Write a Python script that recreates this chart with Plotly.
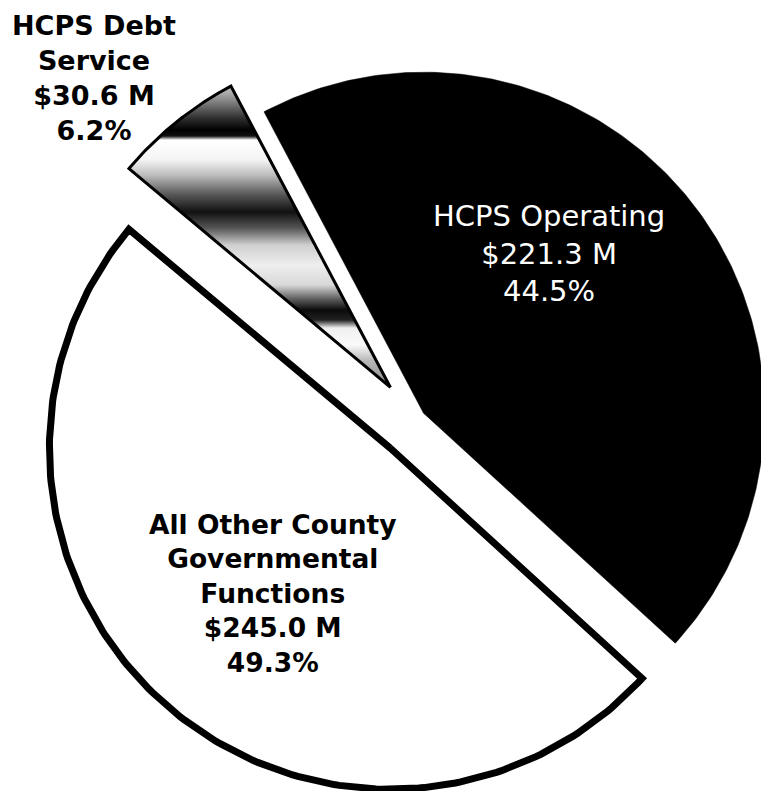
import numpy as np
import plotly.graph_objects as go

# ---------------- data ----------------
categories = ["HCPS Operating", "All Other County Governmental Functions", "HCPS Debt Service"]
values_musd = [221.3, 245.0, 30.6]
label_names = ["HCPS Operating", "All Other County<br>Governmental<br>Functions", "HCPS Debt<br>Service"]

# ---------------- style / geometry constants ----------------
W, H = 761, 791
R_PX = 341.0            # pie radius in pixels
CX_PX, CY_PX = 416.0, 419.0   # pie centre in pixels
START_DEG = -27.9       # first slice starts here, clockwise from 12 o'clock
pulls = [0.028, 0.114, 0.119]
fill_colors = ["#000000", "#ffffff", None]
line_widths = [0, 7, 3]

label_pos_px = [(549, 254), (273, 593), (94, 78)]
label_colors = ["#ffffff", "#000000", "#000000"]
label_sizes = [29, 26.5, 27]
label_weights = ["normal", "bold", "bold"]


def y_unit(py):
    return (CY_PX - py) / R_PX


# gradient for the debt-service slice (pixel rows -> grey level), top to bottom
grad_rows_px = [86, 100, 118, 130, 136, 140, 160, 175, 195, 212, 228, 245, 265, 285, 298, 310, 320, 328, 345, 360, 386]
grad_cols = ["#c8c8c8", "#8a8a8a", "#303030", "#000000", "#101010", "#ffffff", "#f4f4f4", "#bdbdbd",
             "#555555", "#111111", "#555555", "#cfcfcf", "#eeeeee", "#d8d8d8", "#666666", "#0a0a0a",
             "#222222", "#f0f0f0", "#fafafa", "#bbbbbb", "#888888"]
g_top, g_bot = grad_rows_px[0], grad_rows_px[-1]
grad_scale = sorted([[(g_bot - py) / (g_bot - g_top), c] for py, c in zip(grad_rows_px, grad_cols)],
                    key=lambda s: s[0])

vals = np.array(values_musd, dtype=float)
total = vals.sum()
fracs = vals / total

fig = go.Figure()
a0 = START_DEG
for i, cat in enumerate(categories):
    span = fracs[i] * 360.0
    a1 = a0 + span
    mid = np.radians((a0 + a1) / 2)
    ox, oy = pulls[i] * np.sin(mid), pulls[i] * np.cos(mid)
    th = np.radians(np.linspace(a0, a1, 200))
    xs = np.concatenate([[ox], ox + np.sin(th), [ox]])
    ys = np.concatenate([[oy], oy + np.cos(th), [oy]])
    tr = dict(x=xs, y=ys, mode="lines", fill="toself", name=cat, hoverinfo="skip",
              line=dict(color="#000000", width=line_widths[i] if line_widths[i] > 0 else 0.5))
    if fill_colors[i] is not None:
        tr["fillcolor"] = fill_colors[i]
    else:
        tr["fillgradient"] = dict(type="vertical", colorscale=grad_scale,
                                  start=y_unit(g_bot), stop=y_unit(g_top))
    fig.add_trace(go.Scatter(**tr))
    a0 = a1

for i in range(len(categories)):
    pct = fracs[i] * 100
    txt = f"{label_names[i]}<br>${values_musd[i]:.1f} M<br>{pct:.1f}%"
    px, py = label_pos_px[i]
    fig.add_annotation(x=px / W, y=1 - py / H, xref="paper", yref="paper",
                       text=txt, showarrow=False, xanchor="center", yanchor="middle",
                       align="center",
                       font=dict(family="DejaVu Sans", size=label_sizes[i],
                                 color=label_colors[i], weight=label_weights[i]))

fig.update_layout(
    width=W, height=H,
    margin=dict(l=0, r=0, t=0, b=0),
    paper_bgcolor="#ffffff", plot_bgcolor="#ffffff",
    showlegend=False, hovermode=False,
    xaxis=dict(range=[-CX_PX / R_PX, (W - CX_PX) / R_PX], visible=False, fixedrange=True),
    yaxis=dict(range=[-(H - CY_PX) / R_PX, CY_PX / R_PX], visible=False, fixedrange=True),
)

fig.write_html("out.html")
